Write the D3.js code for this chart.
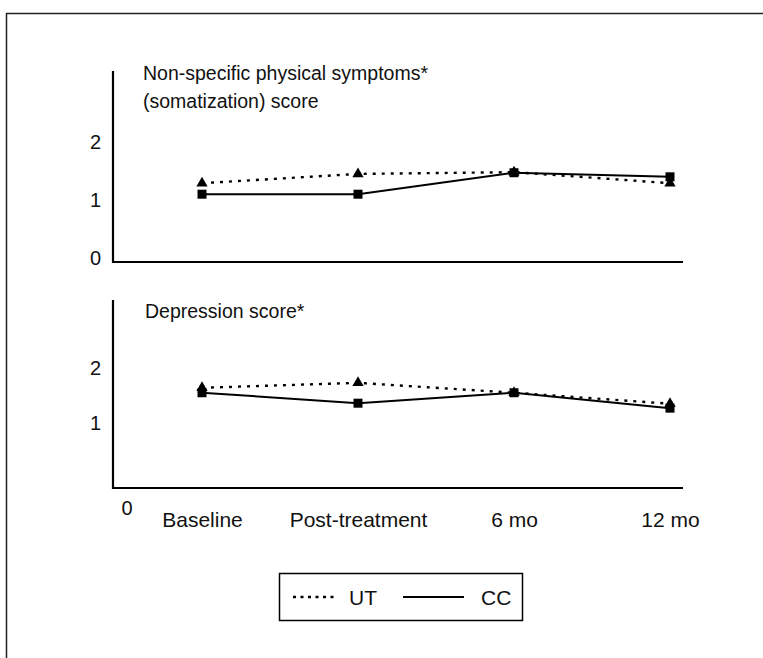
<!DOCTYPE html>
<html>
<head>
<meta charset="utf-8">
<script src="https://cdn.jsdelivr.net/npm/d3@7"></script>
<style>
  body { margin: 0; background: #fff; }
  text { font-family: "Liberation Sans", Arial, sans-serif; fill: #111; }
</style>
</head>
<body>
<div id="chart"></div>
<script>
// time points
var categories = ["Baseline", "Post-treatment", "6 mo", "12 mo"];

// somatization score
var somUT = [1.29, 1.45, 1.48, 1.29];
var somCC = [1.10, 1.10, 1.47, 1.40];

// depression score
var depUT = [1.64, 1.73, 1.55, 1.35];
var depCC = [1.55, 1.36, 1.55, 1.27];

var yTicksTop = [0, 1, 2];
var yTicksBottom = [1, 2];

var width = 763;
var height = 658;

var svg = d3.select("#chart").append("svg")
  .attr("width", width)
  .attr("height", height);

// outer frame (only top and left visible)
svg.append("path")
  .attr("d", "M6.5," + height + "V13.5H" + width)
  .attr("fill", "none")
  .attr("stroke", "#222")
  .attr("stroke-width", 1.5);

var x = d3.scalePoint()
  .domain(categories)
  .range([202, 670]);

var axisLeftX = 113;
var axisRightX = 683;

// draw one panel
var drawPanel = function(opts) {
  var y = d3.scaleLinear().domain([0, 2]).range(opts.yRange);
  var g = svg.append("g");

  // axis lines
  g.append("path")
    .attr("d", "M" + axisLeftX + "," + opts.top + "V" + opts.base + "H" + axisRightX)
    .attr("fill", "none")
    .attr("stroke", "#000")
    .attr("stroke-width", 2.2);

  // y tick labels
  var yAxis = g.append("g")
    .attr("transform", "translate(" + axisLeftX + ",0)")
    .call(d3.axisLeft(y).tickValues(opts.ticks).tickSize(0).tickPadding(12).tickFormat(d3.format("d")));
  yAxis.select(".domain").remove();
  yAxis.selectAll("text")
    .style("font-size", "20px")
    .style("font-family", "'Liberation Sans', Arial, sans-serif")
    .attr("fill", "#111");

  // title
  var title = g.append("text")
    .attr("x", opts.titleX)
    .attr("y", opts.titleY)
    .style("font-size", "19.5px");
  opts.title.forEach(function(t, i) {
    title.append("tspan")
      .attr("x", opts.titleX)
      .attr("dy", i === 0 ? 0 : 28)
      .text(t);
  });

  var line = d3.line()
    .x(function(d, i) { return x(categories[i]); })
    .y(function(d) { return y(d); });

  // UT dotted
  g.append("path")
    .datum(opts.ut)
    .attr("d", line)
    .attr("fill", "none")
    .attr("stroke", "#000")
    .attr("stroke-width", 2.4)
    .attr("stroke-dasharray", "3,6");

  // CC solid
  g.append("path")
    .datum(opts.cc)
    .attr("d", line)
    .attr("fill", "none")
    .attr("stroke", "#000")
    .attr("stroke-width", 2);

  // triangle markers
  g.selectAll(".tri")
    .data(opts.ut)
    .enter()
    .append("path")
    .attr("class", "tri")
    .attr("d", d3.symbol().type(d3.symbolTriangle).size(55))
    .attr("transform", function(d, i) { return "translate(" + x(categories[i]) + "," + y(d) + ")"; })
    .attr("fill", "#000");

  // square markers
  g.selectAll(".sq")
    .data(opts.cc)
    .enter()
    .append("rect")
    .attr("class", "sq")
    .attr("x", function(d, i) { return x(categories[i]) - 4.5; })
    .attr("y", function(d) { return y(d) - 4.5; })
    .attr("width", 9)
    .attr("height", 9)
    .attr("fill", "#000");

  return g;
};

drawPanel({
  top: 71, base: 262,
  yRange: [258, 142],
  ticks: yTicksTop,
  title: ["Non-specific physical symptoms*", "(somatization) score"],
  titleX: 143, titleY: 80,
  ut: somUT, cc: somCC
});

var bottom = drawPanel({
  top: 300, base: 488,
  yRange: [478, 368],
  ticks: yTicksBottom,
  title: ["Depression score*"],
  titleX: 145, titleY: 318,
  ut: depUT, cc: depCC
});

// zero label below the lower axis
bottom.append("text")
  .attr("x", 127)
  .attr("y", 515)
  .attr("text-anchor", "middle")
  .style("font-size", "20px")
  .text("0");

// x axis labels
var xAxis = svg.append("g")
  .attr("transform", "translate(0,488)")
  .call(d3.axisBottom(x).tickSize(0).tickPadding(24));
xAxis.select(".domain").remove();
xAxis.selectAll("text")
  .style("font-size", "21px")
  .style("font-family", "'Liberation Sans', Arial, sans-serif")
  .attr("fill", "#111");

// legend
var legend = svg.append("g");
legend.append("rect")
  .attr("x", 279.5)
  .attr("y", 573.5)
  .attr("width", 243)
  .attr("height", 47)
  .attr("fill", "none")
  .attr("stroke", "#000")
  .attr("stroke-width", 1.5);

var legendItems = [
  { label: "UT", dash: "3,4.5", width: 2.6, x1: 293, x2: 334, tx: 349 },
  { label: "CC", dash: null, width: 2, x1: 403, x2: 464, tx: 481 }
];

legendItems.forEach(function(d) {
  legend.append("line")
    .attr("x1", d.x1).attr("x2", d.x2)
    .attr("y1", 597).attr("y2", 597)
    .attr("stroke", "#000")
    .attr("stroke-width", d.width)
    .attr("stroke-dasharray", d.dash);
  legend.append("text")
    .attr("x", d.tx)
    .attr("y", 605)
    .style("font-size", "21px")
    .text(d.label);
});
</script>
</body>
</html>
